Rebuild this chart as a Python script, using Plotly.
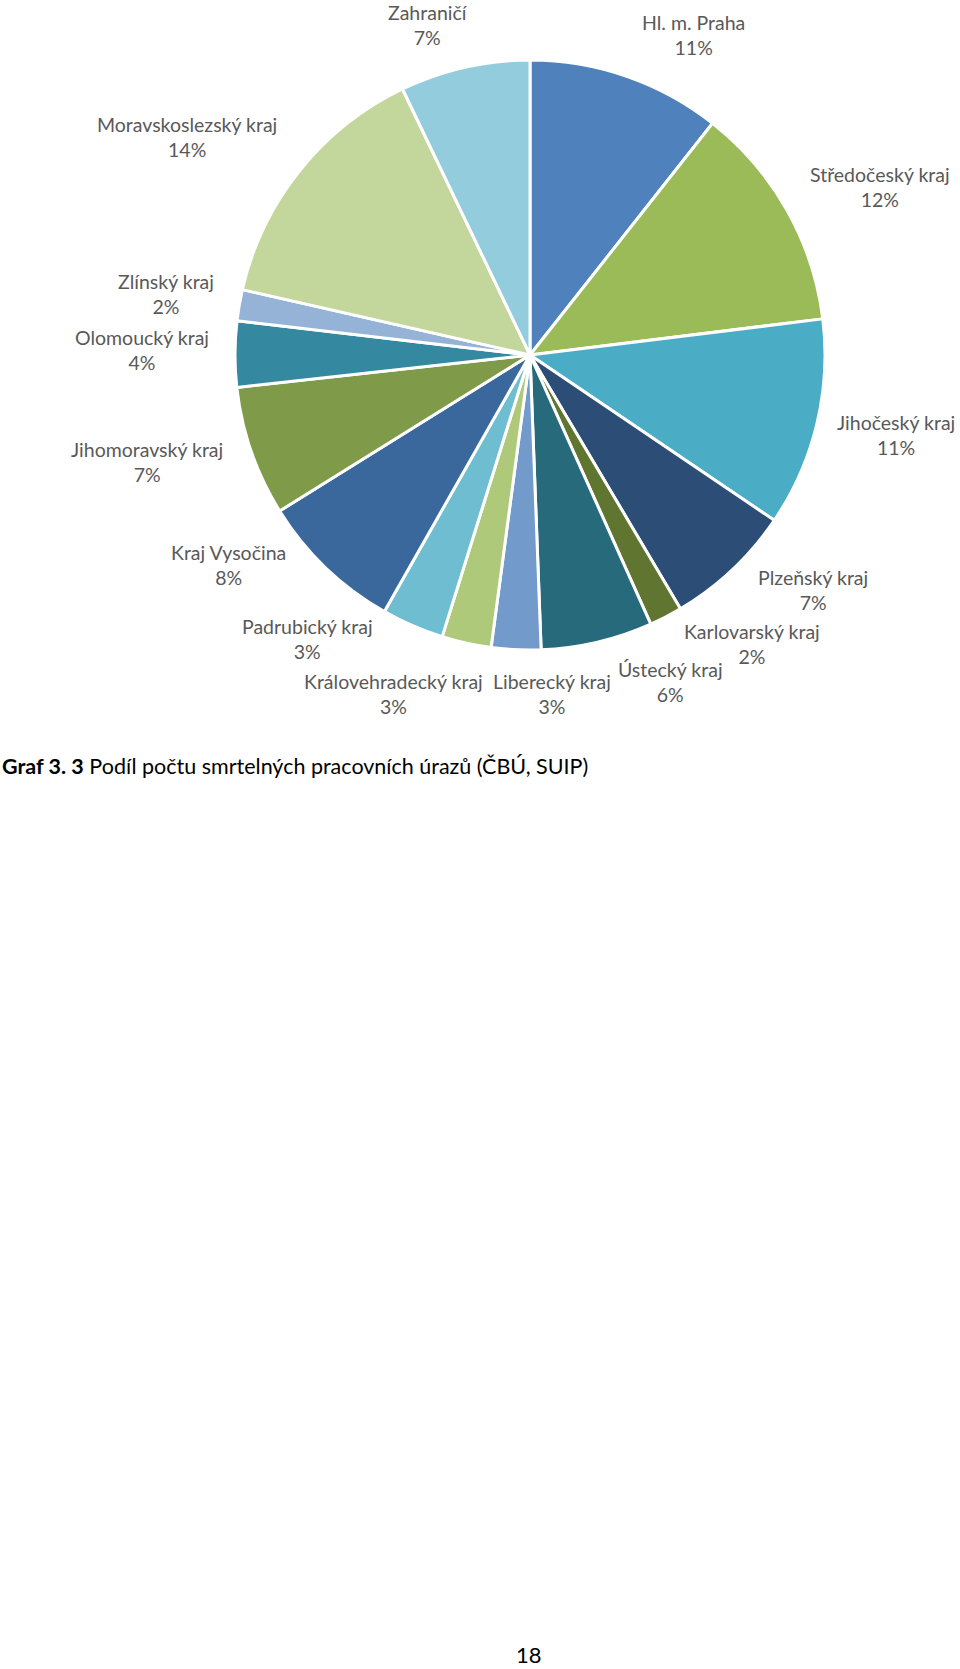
import plotly.graph_objects as go

# Share of fatal work injuries by region (%)
regions = [
    'Hl. m. Praha', 'Středočeský kraj', 'Jihočeský kraj', 'Plzeňský kraj',
    'Karlovarský kraj', 'Ústecký kraj', 'Liberecký kraj', 'Královehradecký kraj',
    'Padrubický kraj', 'Kraj Vysočina', 'Jihomoravský kraj', 'Olomoucký kraj',
    'Zlínský kraj', 'Moravskoslezský kraj', 'Zahraničí',
]
shares = [10.6, 12.4, 11.4, 7.0, 1.8, 6.1, 2.7, 2.7, 3.4, 7.9, 7.1, 3.6, 1.7, 14.3, 7.1]
colors = [
    '#4F81BD', '#9BBB59', '#4BACC6', '#2C4D75', '#5F7530', '#276A7C', '#729ACA',
    '#AFC97A', '#6FBDD1', '#3A679C', '#7F9A48', '#3489A0', '#95B3D7', '#C3D69B',
    '#93CDDD',
]

# layout: page size, pie centre/radius and label block centres (px from top-left)
W, H = 960, 1669
CX, CY, R = 530, 355, 295
label_xy = [
    (693, 35), (880, 187), (896, 435), (813, 590), (752, 644), (670, 682),
    (552, 694), (393, 694), (307, 639), (228, 565), (147, 462), (142, 350),
    (166, 294), (187, 137), (428, 25),
]
LABEL_COLOR = '#595959'
FONT = 'Lato, sans-serif'

fig = go.Figure()
fig.add_trace(go.Pie(
    labels=regions, values=shares,
    sort=False, direction='clockwise', rotation=0,
    marker=dict(colors=colors, line=dict(color='white', width=3)),
    textinfo='none', hoverinfo='label+percent',
    showlegend=False,
    domain=dict(x=[(CX - R) / W, (CX + R) / W], y=[1 - (CY + R) / H, 1 - (CY - R) / H]),
))

total = sum(shares)
for name, val, (lx, ly) in zip(regions, shares, label_xy):
    fig.add_annotation(
        x=lx / W, y=1 - ly / H, xref='paper', yref='paper',
        xanchor='center', yanchor='middle', align='center',
        text=f'{name}<br>{round(val / total * 100)}%',
        showarrow=False, font=dict(family=FONT, size=19.5, color=LABEL_COLOR),
    )

fig.add_annotation(
    x=0, y=1 - 766 / H, xref='paper', yref='paper', xanchor='left', yanchor='middle',
    text='<b>Graf 3. 3</b> Podíl počtu smrtelných pracovních úrazů (ČBÚ, SUIP)',
    showarrow=False, font=dict(family=FONT, size=21.5, color='black'),
)
fig.add_annotation(
    x=529 / W, y=1 - 1654 / H, xref='paper', yref='paper', xanchor='center', yanchor='middle',
    text='18', showarrow=False, font=dict(family=FONT, size=22, color='black'),
)

fig.update_layout(
    width=W, height=H,
    margin=dict(l=0, r=0, t=0, b=0),
    paper_bgcolor='white', plot_bgcolor='white',
    font=dict(family=FONT, size=19.5, color=LABEL_COLOR),
)
# drop the browser's default body margin so the page maps 1:1 onto the window
fig.write_html('out.html', config={'displayModeBar': False},
               post_script="document.body.style.margin='0';")
